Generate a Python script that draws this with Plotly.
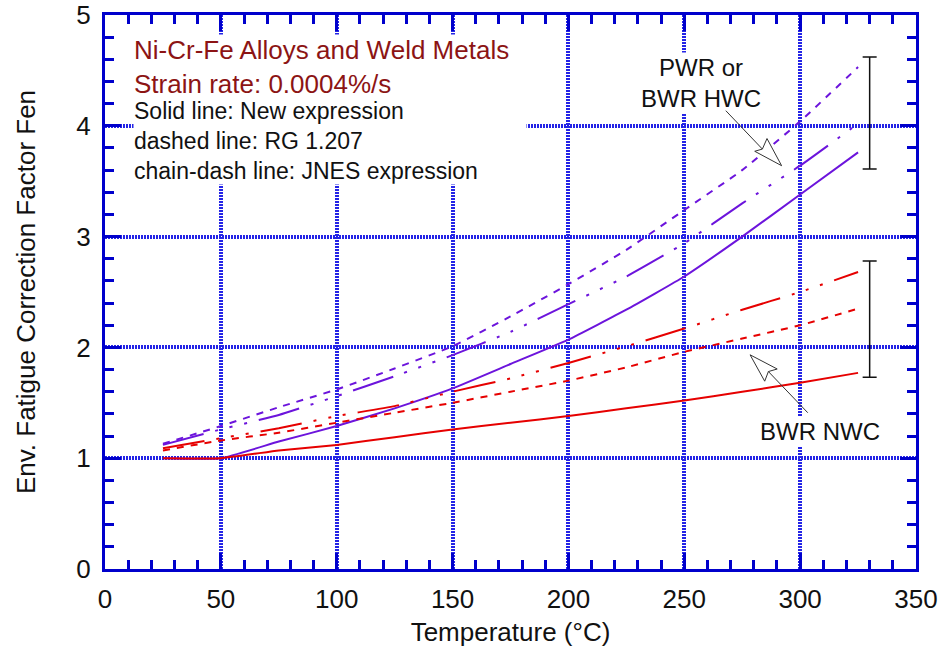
import plotly.graph_objects as go

# ---------------- data ----------------
temperature = [25, 50, 75, 100, 125, 150, 175, 200, 225, 250, 275, 300, 325]

# PWR or BWR HWC (purple)
pwr_new = [1.00, 1.00, 1.15, 1.29, 1.45, 1.63, 1.85, 2.07, 2.34, 2.64, 3.00, 3.38, 3.76]
pwr_rg = [1.13, 1.29, 1.46, 1.62, 1.81, 2.01, 2.28, 2.57, 2.88, 3.24, 3.60, 4.04, 4.53]
pwr_jnes = [1.12, 1.26, 1.39, 1.56, 1.74, 1.93, 2.14, 2.39, 2.64, 2.94, 3.30, 3.64, 4.02]

# BWR NWC (red)
nwc_new = [1.00, 1.00, 1.07, 1.12, 1.19, 1.26, 1.32, 1.38, 1.45, 1.52, 1.60, 1.68, 1.77]
nwc_rg = [1.07, 1.16, 1.23, 1.32, 1.41, 1.50, 1.60, 1.70, 1.82, 1.96, 2.08, 2.20, 2.35]
nwc_jnes = [1.09, 1.18, 1.27, 1.38, 1.47, 1.60, 1.72, 1.86, 2.01, 2.17, 2.34, 2.50, 2.68]

# scatter bands (vertical range bars at the right)
band_temperature = [330, 330]
band_low = [3.61, 1.73]
band_high = [4.62, 2.78]

x_ticks = [0, 50, 100, 150, 200, 250, 300, 350]
y_ticks = [0, 1, 2, 3, 4, 5]

# ---------------- styles ----------------
PURPLE = "#6c14dc"
RED = "#e60000"
AXIS_BLUE = "#0000cc"
GRID_BLUE = "#2424e6"
DARK_RED = "#8c1414"
FONT = "Liberation Sans, Arial, sans-serif"

DASH_RG = "7px,7px"
DASH_JNES = "42px,12px,3px,12px,3px,12px,3px,12px"

fig = go.Figure()

series = [
    (pwr_rg, PURPLE, DASH_RG),
    (pwr_jnes, PURPLE, DASH_JNES),
    (pwr_new, PURPLE, "solid"),
    (nwc_rg, RED, DASH_RG),
    (nwc_jnes, RED, DASH_JNES),
    (nwc_new, RED, "solid"),
]
for values, color, dash in series:
    fig.add_trace(go.Scatter(
        x=temperature, y=values, mode="lines",
        line=dict(color=color, width=2, dash=dash, shape="spline", smoothing=0.4),
        showlegend=False, hoverinfo="skip"))

band_center = [(lo + hi) / 2 for lo, hi in zip(band_low, band_high)]
band_half = [(hi - lo) / 2 for lo, hi in zip(band_low, band_high)]
fig.add_trace(go.Scatter(
    x=band_temperature, y=band_center, mode="markers",
    marker=dict(size=1, color="rgba(0,0,0,0)"),
    error_y=dict(type="data", array=band_half, color="#111111", thickness=1.5, width=7),
    showlegend=False, hoverinfo="skip"))

axis_common = dict(
    showline=True, linewidth=3, linecolor=AXIS_BLUE, mirror="ticks",
    ticks="inside", ticklen=16, tickwidth=3, tickcolor=AXIS_BLUE,
    showgrid=True, gridwidth=4, griddash="2px,1px",
    zeroline=False, automargin=False,
    tickfont=dict(family=FONT, size=26, color="#111111"),
)

fig.update_xaxes(
    range=[0, 350], tickvals=x_ticks, ticktext=[str(v) for v in x_ticks],
    minor=dict(dtick=10, tick0=0, ticks="inside", ticklen=9, tickwidth=2.5,
               tickcolor=AXIS_BLUE, showgrid=False),
    ticklabelstandoff=5,
    title=dict(text="Temperature (°C)", font=dict(family=FONT, size=26, color="#111111"),
               standoff=10),
    **axis_common)
fig.update_yaxes(
    range=[0, 5], tickvals=y_ticks, ticktext=[str(v) for v in y_ticks],
    minor=dict(dtick=0.2, tick0=0, ticks="inside", ticklen=9, tickwidth=2.5,
               tickcolor=AXIS_BLUE, showgrid=False),
    ticklabelstandoff=6,
    title=dict(text="Env. Fatigue Correction Factor Fen",
               font=dict(family=FONT, size=26, color="#111111"), standoff=34),
    **axis_common)
fig.update_xaxes(gridcolor=GRID_BLUE)
fig.update_yaxes(gridcolor=GRID_BLUE)

annotations = []
# title block
annotations.append(dict(text="Ni-Cr-Fe Alloys and Weld Metals<br>Strain rate: 0.0004%/s",
                        x=12, y=4.995 - (66.5 - 15.5) / 110.7, align="left",
                        font=dict(family=FONT, size=26, color=DARK_RED)))
annotations.append(dict(text="Solid line: New expression<br>dashed line: RG 1.207"
                             "<br>chain-dash line: JNES expression",
                        x=12, y=3.86, width=392, align="left",
                        font=dict(family=FONT, size=23, color="#111111")))
for a in annotations:
    a.update(xref="x", yref="y", xanchor="left", yanchor="middle",
             showarrow=False, bgcolor="white", borderpad=0)

label_common = dict(xref="x", yref="y", xanchor="center", yanchor="middle",
                    showarrow=False, bgcolor="white", borderpad=1,
                    font=dict(family=FONT, size=24, color="#111111"))
annotations.append(dict(text="PWR or<br>BWR HWC", x=257.2, y=4.39, **label_common))
annotations.append(dict(text="BWR NWC", x=308.5, y=1.24, **label_common))

# arrows: (tail, notch, corner1, tip, corner2)
arrow_geom = [
    ((267.3, 4.15), (283.7, 3.79), (280.4, 3.77), (292.0, 3.64), (285.7, 3.885)),
    ((303.9, 1.397), (286.3, 1.782), (284.7, 1.695), (278.4, 1.933), (290.1, 1.805)),
]
shapes = []
for tail, notch, c1, tip, c2 in arrow_geom:
    annotations.append(dict(x=notch[0], y=notch[1], ax=tail[0], ay=tail[1],
                            xref="x", yref="y", axref="x", ayref="y", text="",
                            showarrow=True, arrowhead=0, arrowwidth=1,
                            arrowcolor="#333333", standoff=0, startstandoff=0))
    path = (f"M {notch[0]},{notch[1]} L {c1[0]},{c1[1]} L {tip[0]},{tip[1]} "
            f"L {c2[0]},{c2[1]} Z")
    shapes.append(dict(type="path", path=path, xref="x", yref="y",
                       fillcolor="white", line=dict(color="#333333", width=1),
                       layer="above"))

fig.update_layout(
    width=943, height=652,
    margin=dict(l=105, r=27, t=15, b=83),
    paper_bgcolor="white", plot_bgcolor="white",
    annotations=annotations, shapes=shapes,
    font=dict(family=FONT),
)

fig.write_html("out.html")
